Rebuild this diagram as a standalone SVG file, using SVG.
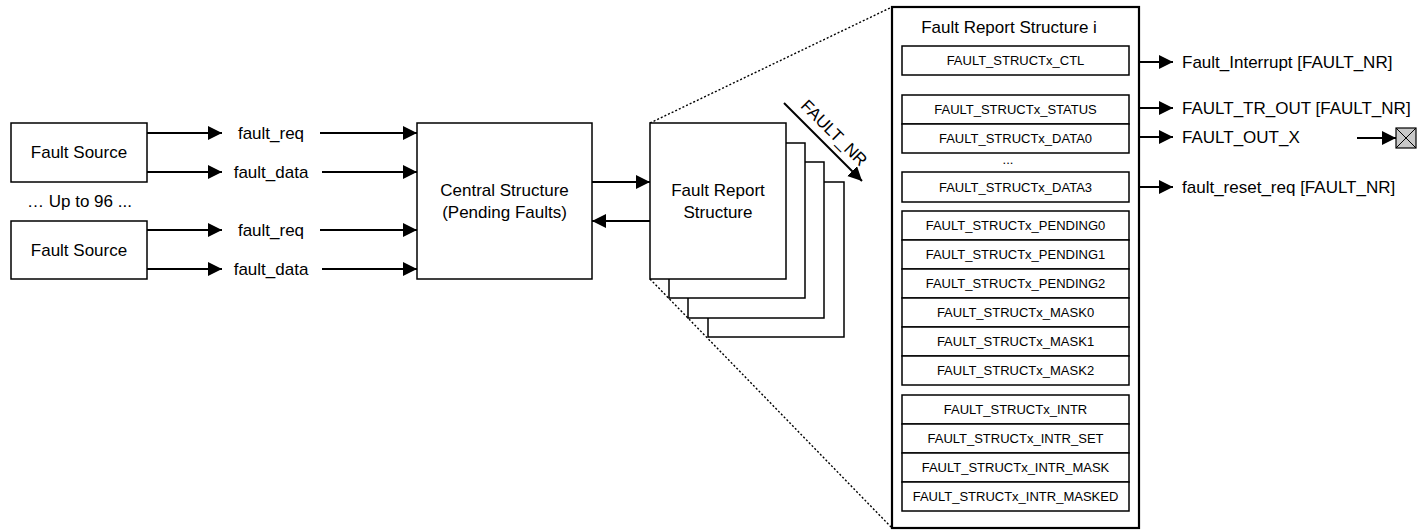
<svg xmlns="http://www.w3.org/2000/svg" width="1419" height="532" viewBox="0 0 1419 532">
  <defs>
    <marker id="arrow" markerUnits="userSpaceOnUse" markerWidth="16" markerHeight="16" refX="14" refY="7" orient="auto">
      <path d="M0,0 L14,7 L0,14 Z" fill="#000"/>
    </marker>
    <style>
      text { font-family: "Liberation Sans", Arial, sans-serif; fill: #000; }
      .lbl { font-size: 17px; }
      .ctr { text-anchor: middle; }
      .reg { font-size: 13px; text-anchor: middle; }
      .box { fill: #fff; stroke: #000; stroke-width: 1.5; }
      .frame { fill: #fff; stroke: #000; stroke-width: 2.2; }
      .wire { fill: none; stroke: #000; stroke-width: 2; }
      .arr { fill: none; stroke: #000; stroke-width: 2; marker-end: url(#arrow); }
      .dot { fill: none; stroke: #000; stroke-width: 1.4; stroke-dasharray: 2 2; }
    </style>
  </defs>

  <!-- zoom-out guide lines from the report structure to its detail frame -->
  <g id="guides">
    <line class="dot" x1="650" y1="123" x2="892" y2="7"/>
    <line class="dot" x1="650" y1="279" x2="892" y2="528"/>
  </g>

  <!-- sources -->
  <g id="fault-source-1">
    <rect class="box" x="11" y="123" width="136" height="59"/>
    <text class="lbl ctr" x="79" y="158">Fault Source</text>
  </g>
  <g id="fault-source-2">
    <rect class="box" x="11" y="221" width="136" height="58"/>
    <text class="lbl ctr" x="79" y="256">Fault Source</text>
  </g>
  <text id="source-count" class="lbl" x="27" y="207">… Up to 96 ...</text>

  <!-- central structure -->
  <g id="central-structure">
    <rect class="box" x="417" y="123" width="175" height="156"/>
    <text class="lbl ctr" x="504.5" y="196">Central Structure</text>
    <text class="lbl ctr" x="504.5" y="218">(Pending Faults)</text>
  </g>

  <!-- stack of fault report structures (back to front) -->
  <g id="fault-report-stack">
    <rect class="box" x="708" y="182" width="136" height="155"/>
    <rect class="box" x="688" y="162" width="136" height="156"/>
    <rect class="box" x="669" y="143" width="136" height="155"/>
  </g>
  <g id="fault-report-structure">
    <rect class="box" x="650" y="123" width="136" height="156"/>
    <text class="lbl ctr" x="718" y="196">Fault Report</text>
    <text class="lbl ctr" x="718" y="218">Structure</text>
  </g>

  <!-- detail of one fault report structure -->
  <g id="fault-report-detail">
    <rect class="frame" x="892" y="7" width="247" height="521"/>
    <text class="lbl ctr" x="1009" y="33">Fault Report Structure i</text>
  </g>
  <g id="reg-ctl">
    <rect class="box" x="902" y="46" width="227" height="29"/>
    <text class="reg" x="1015.5" y="65">FAULT_STRUCTx_CTL</text>
  </g>
  <g id="reg-status-data">
    <rect class="box" x="902" y="95" width="227" height="29"/>
    <text class="reg" x="1015.5" y="114">FAULT_STRUCTx_STATUS</text>
    <rect class="box" x="902" y="124" width="227" height="29"/>
    <text class="reg" x="1015.5" y="143">FAULT_STRUCTx_DATA0</text>
    <text class="reg" x="1008" y="164">...</text>
    <rect class="box" x="902" y="172" width="227" height="30"/>
    <text class="reg" x="1015.5" y="191.5">FAULT_STRUCTx_DATA3</text>
  </g>
  <g id="reg-pending-mask">
    <rect class="box" x="902" y="211" width="227" height="29"/>
    <text class="reg" x="1015.5" y="230">FAULT_STRUCTx_PENDING0</text>
    <rect class="box" x="902" y="240" width="227" height="29"/>
    <text class="reg" x="1015.5" y="259">FAULT_STRUCTx_PENDING1</text>
    <rect class="box" x="902" y="269" width="227" height="29"/>
    <text class="reg" x="1015.5" y="288">FAULT_STRUCTx_PENDING2</text>
    <rect class="box" x="902" y="298" width="227" height="29"/>
    <text class="reg" x="1015.5" y="317">FAULT_STRUCTx_MASK0</text>
    <rect class="box" x="902" y="327" width="227" height="29"/>
    <text class="reg" x="1015.5" y="346">FAULT_STRUCTx_MASK1</text>
    <rect class="box" x="902" y="356" width="227" height="29"/>
    <text class="reg" x="1015.5" y="375">FAULT_STRUCTx_MASK2</text>
  </g>
  <g id="reg-intr">
    <rect class="box" x="902" y="395" width="227" height="29"/>
    <text class="reg" x="1015.5" y="414">FAULT_STRUCTx_INTR</text>
    <rect class="box" x="902" y="424" width="227" height="29"/>
    <text class="reg" x="1015.5" y="443">FAULT_STRUCTx_INTR_SET</text>
    <rect class="box" x="902" y="453" width="227" height="29"/>
    <text class="reg" x="1015.5" y="472">FAULT_STRUCTx_INTR_MASK</text>
    <rect class="box" x="902" y="482" width="227" height="29"/>
    <text class="reg" x="1015.5" y="501">FAULT_STRUCTx_INTR_MASKED</text>
  </g>

  <!-- terminated output -->
  <g id="out-terminator">
    <rect x="1396" y="128" width="20" height="20" fill="#c8c8c8" stroke="#000" stroke-width="1.2"/>
    <path d="M1396,128 L1416,148 M1416,128 L1396,148" stroke="#000" stroke-width="1" fill="none"/>
  </g>

  <!-- connectors -->
  <g id="connectors">
    <line class="arr" x1="147" y1="133" x2="222" y2="133"/>
    <line class="arr" x1="320" y1="133" x2="417" y2="133"/>
    <line class="arr" x1="147" y1="172" x2="222" y2="172"/>
    <line class="arr" x1="322" y1="172" x2="417" y2="172"/>
    <line class="arr" x1="147" y1="230" x2="222" y2="230"/>
    <line class="arr" x1="320" y1="230" x2="417" y2="230"/>
    <line class="arr" x1="147" y1="269" x2="222" y2="269"/>
    <line class="arr" x1="322" y1="269" x2="417" y2="269"/>

    <line class="arr" x1="592" y1="182" x2="650" y2="182"/>
    <line class="arr" x1="650" y1="221" x2="592" y2="221"/>

    <line class="arr" x1="784" y1="103" x2="862" y2="181"/>

    <line class="arr" x1="1139" y1="62" x2="1173" y2="62"/>
    <line class="arr" x1="1139" y1="108" x2="1173" y2="108"/>
    <line class="arr" x1="1139" y1="137" x2="1173" y2="137"/>
    <line class="arr" x1="1139" y1="187" x2="1173" y2="187"/>
    <line class="arr" x1="1357" y1="138" x2="1396" y2="138"/>
  </g>

  <!-- connector labels -->
  <g id="connector-labels">
    <text class="lbl ctr" x="271" y="139">fault_req</text>
    <text class="lbl ctr" x="271" y="178">fault_data</text>
    <text class="lbl ctr" x="271" y="236">fault_req</text>
    <text class="lbl ctr" x="271" y="275">fault_data</text>
    <text class="lbl ctr" transform="translate(830,137) rotate(45)">FAULT_NR</text>
    <text class="lbl" x="1182" y="68">Fault_Interrupt [FAULT_NR]</text>
    <text class="lbl" x="1182" y="114">FAULT_TR_OUT [FAULT_NR]</text>
    <text class="lbl" x="1182" y="143">FAULT_OUT_X</text>
    <text class="lbl" x="1182" y="193">fault_reset_req [FAULT_NR]</text>
  </g>
</svg>
